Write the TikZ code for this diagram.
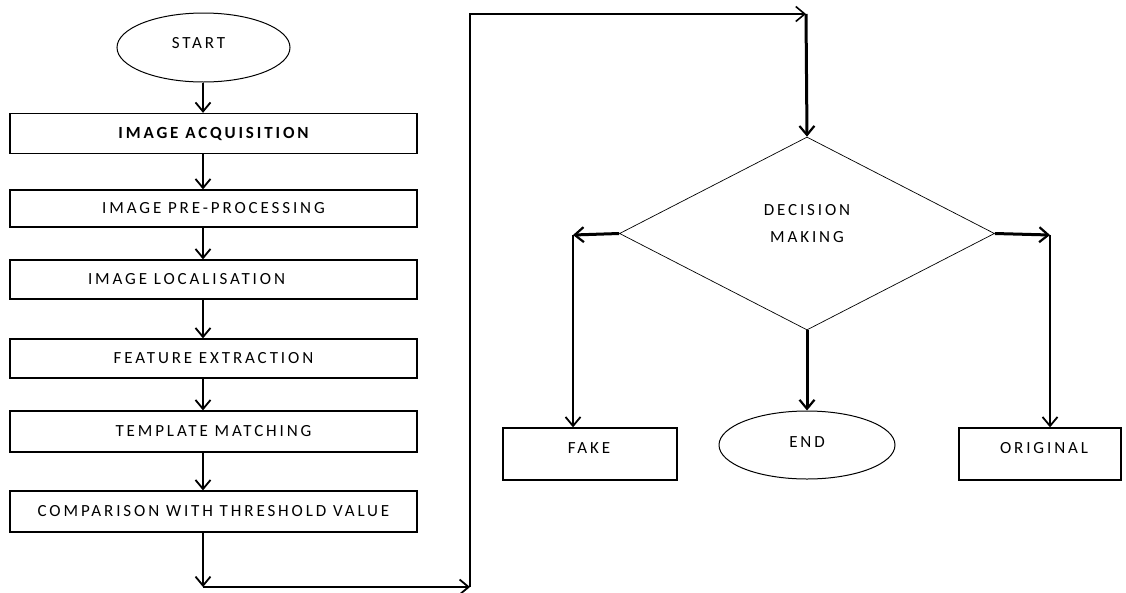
\documentclass[tikz,border=0pt]{standalone}
\usepackage{fontspec}
\setmainfont{Carlito}[LetterSpace=17]
\usetikzlibrary{shapes.geometric,arrows.meta}
\begin{document}
\begin{tikzpicture}[x=1pt,y=-1pt,
  txt/.style={font=\fontsize{17}{27}\selectfont,inner sep=0pt,align=center},
  box/.style={draw,line width=1.3pt,minimum width=407pt,minimum height=40pt,inner sep=0pt,txt},
  sbox/.style={draw,line width=1.3pt,minimum width=174pt,minimum height=52pt,inner sep=0pt},
  oval/.style={ellipse,draw,line width=1pt,inner sep=0pt},
  arr/.style={line width=1.8pt,-{Straight Barb[length=9pt,width=15pt,line width=1.8pt]}},
  arrthin/.style={line width=1.4pt,-{Straight Barb[length=9pt,width=15pt,line width=1.6pt]}},
  arrthick/.style={line width=3pt,-{Straight Barb[length=9pt,width=15pt,line width=2.2pt]}}
]
\useasboundingbox (0,0) rectangle (1126,592);
\fill[white] (0,0) rectangle (1126,592);

% left column
\node[oval,minimum width=173pt,minimum height=69pt,
      label={[txt,xshift=-5pt,yshift=4.5pt]center:START}] (start) at (203.5,47.5) {};
\node[box] (acq)  at (213.5,133.5) {\bfseries IMAGE ACQUISITION};
\node[box,minimum height=37pt] (pre)  at (213.5,208.5) {IMAGE PRE-PROCESSING};
\node[box,minimum height=39pt,
      label={[txt,xshift=-27pt]center:IMAGE LOCALISATION}] (loc)  at (213.5,279.5) {};
\node[box,minimum height=39pt] (feat) at (213.5,358.5) {FEATURE EXTRACTION};
\node[box,minimum height=41pt] (tmpl) at (213.5,431.5) {TEMPLATE MATCHING};
\node[box,minimum height=41pt] (comp) at (213.5,511.5) {COMPARISON WITH THRESHOLD VALUE};

\coordinate (ax) at (203,0);
\draw[arr] (start.south -| ax) -- (acq.north -| ax);
\draw[arr] (acq.south -| ax) -- (pre.north -| ax);
\draw[arr] (pre.south -| ax) -- (loc.north -| ax);
\draw[arr] (loc.south -| ax) -- (feat.north -| ax);
\draw[arr] (feat.south -| ax) -- (tmpl.north -| ax);
\draw[arr] (tmpl.south -| ax) -- (comp.north -| ax);

% loop to decision
\coordinate (c1) at (203,587);
\coordinate (c2) at (470,587);
\coordinate (c3) at (470,14);
\coordinate (c4) at (806,14);
\draw[arr] (comp.south -| c1) -- (c1);
\draw[arr] (c1) -- (c2);
\draw[arrthin] (c2) -- (c3) -- (c4);

% decision
\node[diamond,draw,line width=0.7pt,minimum width=375pt,minimum height=193pt,inner sep=0pt,
      label={[txt,yshift=9.5pt]center:DECISION\\MAKING}] (dec) at (807,233.5) {};
\draw[arrthick] (c4) -- (dec.north);

% outcomes
\node[sbox,label={[txt,xshift=-1pt,yshift=6pt]center:FAKE}] (fake) at (590,454) {};
\node[oval,minimum width=176pt,minimum height=68pt,
      label={[txt,yshift=3pt]center:END}] (end) at (807,445) {};
\node[sbox,minimum width=162pt,label={[txt,xshift=4pt,yshift=6pt]center:ORIGINAL}] (orig) at (1040,454) {};

\coordinate (l1) at (573,235);
\coordinate (r1) at (1050,235);
\draw[arrthick] (dec.west) -- (l1);
\draw[arr] (l1) -- (l1 |- fake.north);
\draw[arrthick] (dec.south) -- (end.north);
\draw[arrthick] (dec.east) -- (r1);
\draw[arr] (r1) -- (r1 |- orig.north);
\end{tikzpicture}
\end{document}
